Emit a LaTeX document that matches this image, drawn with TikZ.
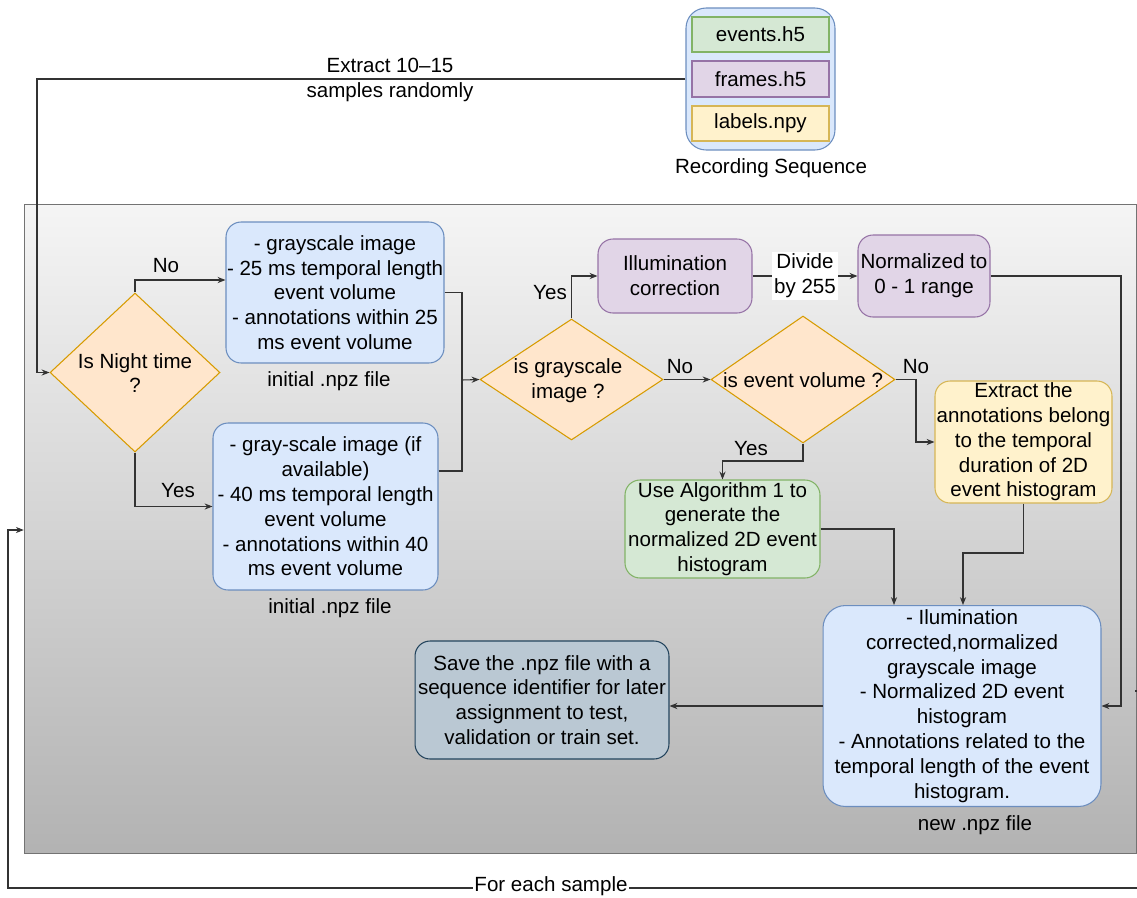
\documentclass[tikz,border=0pt]{standalone}
\usepackage{fontspec}
\setmainfont{Liberation Sans}
\usetikzlibrary{shapes.geometric,arrows.meta,calc}
\definecolor{bluef}{HTML}{DAE8FC}\definecolor{blued}{HTML}{6C8EBF}
\definecolor{greenf}{HTML}{D5E8D4}\definecolor{greend}{HTML}{82B366}
\definecolor{purpf}{HTML}{E1D5E7}\definecolor{purpd}{HTML}{9673A6}
\definecolor{yelf}{HTML}{FFF2CC}\definecolor{yeld}{HTML}{D6B656}
\definecolor{orf}{HTML}{FFE6CC}\definecolor{ord}{HTML}{D79B00}
\definecolor{slatef}{HTML}{BAC8D3}\definecolor{slated}{HTML}{23445D}
\definecolor{linec}{HTML}{333333}
\begin{document}
\begin{tikzpicture}[x=0.02cm,y=-0.02cm,
  every node/.style={font=\fontsize{11.7}{14.1}\selectfont, align=center, inner sep=0pt},
  rbox/.style={draw, rounded corners=0.3cm, line width=0.6pt},
  plainbox/.style={draw, line width=0.6pt},
  dia/.style={diamond, draw=ord, fill=orf, line width=0.6pt},
  conn/.style={draw=linec, line width=0.6pt},
  arr/.style={conn, -{Stealth[length=4.5pt,width=3.5pt]}},
  lbl/.style={text=black}]
\useasboundingbox (0,0) rectangle (1137,897);
% container
\node[draw=black!55, top color=black!4, bottom color=black!30, minimum width=22.24cm, minimum height=12.98cm] (cont) at (580,528.5) {};
% recording sequence
\node[rbox, draw=blued, fill=bluef, rounded corners=0.4cm, minimum width=2.98cm, minimum height=2.84cm] (rec) at (760.5,79) {};
\node[plainbox, draw=greend, fill=greenf, minimum width=2.74cm, minimum height=0.7cm] (ev) at (760.5,34.5) {events.h5};
\node[plainbox, draw=purpd, fill=purpf, minimum width=2.74cm, minimum height=0.72cm] (fr) at (760.5,79) {frames.h5};
\node[plainbox, draw=yeld, fill=yelf, minimum width=2.74cm, minimum height=0.7cm] (lb) at (760.5,123.5) {labels.npy};
\node[lbl] (reclbl) at (771,168) {Recording Sequence};
% decision 1
\node[dia, minimum width=3.4cm, minimum height=3.18cm] (d1) at (135,372.5) {};
\node[lbl] (d1t) at (135,373) {Is Night time\\?};
% boxes
\node[rbox, draw=blued, fill=bluef, minimum width=4.36cm, minimum height=2.82cm] (b1) at (335,292.5)
  {- grayscale image\\- 25 ms temporal length\\event volume\\- annotations within 25\\ms event volume};
\node[lbl] (b1l) at (329,381) {initial .npz file};
\node[rbox, draw=blued, fill=bluef, minimum width=4.5cm, minimum height=3.34cm] (b2) at (325.5,506.5)
  {- gray-scale image (if\\available)\\- 40 ms temporal length\\event volume\\- annotations within 40\\ms event volume};
\node[lbl] (b2l) at (330,608) {initial .npz file};
% decision 2
\node[dia, minimum width=3.66cm, minimum height=2.42cm] (d2) at (571.5,379.5) {};
\node[lbl] (d2t) at (568,381) {is grayscale\\image ?};
\node[rbox, draw=purpd, fill=purpf, minimum width=3.08cm, minimum height=1.48cm] (ill) at (675,276) {Illumination\\correction};
\node[rbox, draw=purpd, fill=purpf, minimum width=2.64cm, minimum height=1.64cm] (norm) at (924,276) {Normalized to\\0 - 1 range};
% decision 3
\node[dia, minimum width=3.68cm, minimum height=2.54cm] (d3) at (803,379.5) {};
\node[lbl] (d3t) at (803,380) {is event volume ?};
\node[rbox, draw=yeld, fill=yelf, minimum width=3.54cm, minimum height=2.44cm] (ext) at (1023.5,442)
  {Extract the\\annotations belong\\to the temporal\\duration of 2D\\event histogram};
\node[rbox, draw=greend, fill=greenf, minimum width=3.9cm, minimum height=1.96cm] (grn) at (722.5,529)
  {Use Algorithm 1 to\\generate the\\normalized 2D event\\histogram};
\node[rbox, draw=blued, fill=bluef, rounded corners=0.45cm, minimum width=5.56cm, minimum height=4.02cm] (npz) at (962,706)
  {- Ilumination\\corrected,normalized\\grayscale image\\- Normalized 2D event\\histogram\\- Annotations related to the\\temporal length of the event\\histogram.};
\node[lbl] (npzl) at (975,825) {new .npz file};
\node[rbox, draw=slated, fill=slatef, minimum width=5.08cm, minimum height=2.36cm] (save) at (542,700)
  {Save the .npz file with a\\sequence identifier for later\\assignment to test,\\validation or train set.};
% connectors
\coordinate (xa) at (37,79);
\draw[arr] (rec.west) -- (xa) |- (d1.west);
\node[lbl] (xal) at (390,80) {Extract 10--15\\samples randomly};
\draw[arr] (d1.north) |- ([yshift=0.25cm]b1.west);
\node[lbl] (no1) at (166,266) {No};
\draw[arr] (d1.south) |- (b2.west);
\node[lbl] (yes1) at (178,491) {Yes};
\coordinate (mj) at (462,380);
\draw[conn] (b1.east) -| (mj);
\draw[conn] ([yshift=0.71cm]b2.east) -| (mj);
\draw[arr] (mj) -- (d2.west);
\draw[arr] (d2.north) |- (ill.west);
\node[lbl] (yes2) at (550,293) {Yes};
\draw[arr] (ill.east) -- (norm.west) node[midway, fill=white, inner sep=1pt] (div) {Divide\\by 255};
\coordinate (r1) at (1121,276);
\draw[arr] (norm.east) -- (r1) |- (npz.east);
\draw[arr] (d2.east) -- (d3.west);
\node[lbl] (no2) at (680,367) {No};
\coordinate (r2) at (916,379.5);
\draw[arr] (d3.east) -- (r2) |- (ext.west);
\node[lbl] (no3) at (916,367) {No};
\coordinate (r3) at (803,461);
\draw[arr] (d3.south) -- (r3) -| (grn.north);
\node[lbl] (yes3) at (751,449) {Yes};
\draw[arr] (grn.east) -| ([xshift=-1.36cm]npz.north);
\coordinate (r4) at (1023.5,553);
\draw[arr] (ext.south) -- (r4) -| ([xshift=0.02cm]npz.north);
\draw[arr] (npz.west) -- (npz.west -| save.east);
% loop
\coordinate (lp0) at (1135,691);
\coordinate (lp1) at (1139,888);
\coordinate (lp2) at (8,888);
\draw[arr] (lp0) -- (1139,691) -- (lp1) -- (lp2) -- (8,530) -- (cont.west |- 0,530);
\node[lbl, fill=white, inner sep=1pt] (each) at (551,886) {For each sample};
\end{tikzpicture}
\end{document}
